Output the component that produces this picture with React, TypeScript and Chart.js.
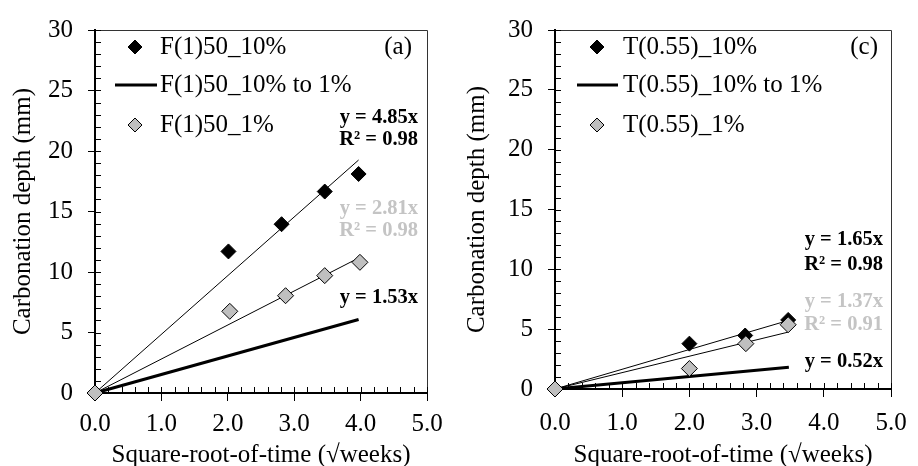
import React, { useEffect, useRef } from 'react';
import { Chart, registerables } from 'chart.js';
Chart.register(...registerables);

// ---------- data: panel (a) ----------
const aBlackX = [0, 2.01, 2.81, 3.46, 3.97];
const aBlackY = [0, 11.7, 13.95, 16.65, 18.1];
const aGrayX = [0, 2.03, 2.87, 3.46, 3.99];
const aGrayY = [0, 6.75, 8.04, 9.7, 10.8];
const aSlopes = [4.85, 2.81, 1.53]; // 10%, 1%, 10% to 1%
const aTrendEnd = [3.97, 3.99, 3.97];
const aR2 = ['0.98', '0.98'];
const aLabels = ['F(1)50_10%', 'F(1)50_10% to 1%', 'F(1)50_1%'];

// ---------- data: panel (c) ----------
const cBlackX = [0, 2.0, 2.83, 3.47];
const cBlackY = [0, 3.79, 4.47, 5.77];
const cGrayX = [0, 2.0, 2.84, 3.47];
const cGrayY = [0, 1.71, 3.79, 5.37];
const cSlopes = [1.65, 1.37, 0.52];
const cTrendEnd = [3.47, 3.47, 3.48];
const cR2 = ['0.98', '0.91'];
const cLabels = ['T(0.55)_10%', 'T(0.55)_10% to 1%', 'T(0.55)_1%'];

// ---------- axes ----------
const xMin = 0, xMax = 5, xStep = 1, xMinorStep = 0.2;
const yMin = 0, yMax = 30, yStep = 5, yMinorStep = 1;
const xTitle = 'Square-root-of-time (\u221Aweeks)';
const yTitle = 'Carbonation depth (mm)';

const FONT = '"Liberation Serif", "Times New Roman", serif';
const FS = 25;
const GRAY_FILL = '#bfbfbf';
const GRAY_TEXT = '#c4c4c4';

type Panel = {
  bx: number[]; by: number[]; gx: number[]; gy: number[];
  slopes: number[]; ends: number[]; r2: string[]; labels: string[]; tag: string;
  // layout
  left: number; yAxisW: number; top: number; right: number; xAxisH: number;
  xTickPad: number; yTitlePad: number;
  eqRight: number; eqY: number[]; tagRight: number;
  legDiamond: number; legLine: [number, number]; legText: number; legY: number[];
};

const panels: Panel[] = [
  {
    bx: aBlackX, by: aBlackY, gx: aGrayX, gy: aGrayY, slopes: aSlopes, ends: aTrendEnd, r2: aR2, labels: aLabels, tag: '(a)',
    left: 0, yAxisW: 95, top: 21, right: 32, xAxisH: 73, xTickPad: 8, yTitlePad: 8,
    eqRight: 9, eqY: [118, 140, 209, 231, 298], tagRight: 15,
    legDiamond: 40, legLine: [20, 62], legText: 65, legY: [47, 85, 125],
  },
  {
    bx: cBlackX, by: cBlackY, gx: cGrayX, gy: cGrayY, slopes: cSlopes, ends: cTrendEnd, r2: cR2, labels: cLabels, tag: '(c)',
    left: 459, yAxisW: 96, top: 20, right: 27, xAxisH: 77, xTickPad: 11, yTitlePad: 3,
    eqRight: 8, eqY: [240, 265, 302, 325, 362], tagRight: 13,
    legDiamond: 42, legLine: [22, 63], legText: 68, legY: [47, 85, 125],
  },
];

const W = 459, H = 466;

function drawDiamond(ctx: CanvasRenderingContext2D, x: number, y: number, r: number, fill: string) {
  ctx.beginPath();
  ctx.moveTo(x, y - r);
  ctx.lineTo(x + r, y);
  ctx.lineTo(x, y + r);
  ctx.lineTo(x - r, y);
  ctx.closePath();
  ctx.fillStyle = fill;
  ctx.fill();
  ctx.lineWidth = 1;
  ctx.strokeStyle = '#000';
  ctx.stroke();
}

function makeDecor(p: Panel) {
  return {
    id: 'decor',
    beforeDatasetsDraw(chart: any) {
      const ctx: CanvasRenderingContext2D = chart.ctx;
      const a = chart.chartArea;
      const xs = chart.scales.x, ys = chart.scales.y;
      ctx.save();
      // frame top & right
      ctx.strokeStyle = '#333';
      ctx.lineWidth = 1;
      ctx.beginPath();
      ctx.moveTo(a.left, Math.round(a.top) + 0.5);
      ctx.lineTo(Math.round(a.right) + 0.5, Math.round(a.top) + 0.5);
      ctx.lineTo(Math.round(a.right) + 0.5, a.bottom);
      ctx.stroke();
      // minor ticks
      ctx.strokeStyle = '#000';
      ctx.beginPath();
      for (let v = yMin; v <= yMax + 1e-9; v += yMinorStep) {
        const py = Math.round(ys.getPixelForValue(v)) + 0.5;
        ctx.moveTo(a.left, py);
        ctx.lineTo(a.left + 6, py);
      }
      const n = Math.round((xMax - xMin) / xMinorStep);
      for (let i = 0; i <= n; i++) {
        const px = Math.round(xs.getPixelForValue(xMin + i * xMinorStep)) + 0.5;
        ctx.moveTo(px, a.bottom);
        ctx.lineTo(px, a.bottom - 6);
      }
      ctx.stroke();
      ctx.restore();
    },
    afterDraw(chart: any) {
      const ctx: CanvasRenderingContext2D = chart.ctx;
      const a = chart.chartArea;
      ctx.save();
      // legend
      ctx.font = `${FS}px ${FONT}`;
      ctx.textBaseline = 'middle';
      ctx.textAlign = 'left';
      ctx.fillStyle = '#000';
      drawDiamond(ctx, a.left + p.legDiamond, p.legY[0], 7, '#000');
      ctx.fillStyle = '#000';
      ctx.fillText(p.labels[0], a.left + p.legText, p.legY[0]);
      ctx.beginPath();
      ctx.lineWidth = 3;
      ctx.strokeStyle = '#000';
      ctx.moveTo(a.left + p.legLine[0], p.legY[1]);
      ctx.lineTo(a.left + p.legLine[1], p.legY[1]);
      ctx.stroke();
      ctx.fillText(p.labels[1], a.left + p.legText, p.legY[1]);
      drawDiamond(ctx, a.left + p.legDiamond, p.legY[2], 7, GRAY_FILL);
      ctx.fillStyle = '#000';
      ctx.fillText(p.labels[2], a.left + p.legText, p.legY[2]);
      // panel tag
      ctx.textAlign = 'right';
      ctx.fillText(p.tag, a.right - p.tagRight, p.legY[0]);
      // equations
      ctx.font = `bold 20.5px ${FONT}`;
      const eqs = [
        { t: `y = ${p.slopes[0].toFixed(2)}x`, c: '#000' },
        { t: `R\u00B2 = ${p.r2[0]}`, c: '#000' },
        { t: `y = ${p.slopes[1].toFixed(2)}x`, c: GRAY_TEXT },
        { t: `R\u00B2 = ${p.r2[1]}`, c: GRAY_TEXT },
        { t: `y = ${p.slopes[2].toFixed(2)}x`, c: '#000' },
      ];
      eqs.forEach((e, i) => {
        ctx.fillStyle = e.c;
        ctx.fillText(e.t, a.right - p.eqRight, p.eqY[i]);
      });
      ctx.restore();
    },
  };
}

function makeConfig(p: Panel): any {
  const pts = (xs: number[], ys: number[]) => xs.map((x, i) => ({ x, y: ys[i] }));
  const trend = (k: number, xe: number) => [{ x: 0, y: 0 }, { x: xe, y: k * xe }];
  const lineDs = (label: string, k: number, xe: number, w: number, order: number) => ({
    label, data: trend(k, xe), showLine: true, borderColor: '#000', borderWidth: w,
    pointRadius: 0, pointHoverRadius: 0, order, clip: false, fill: false, tension: 0,
  });
  return {
    type: 'scatter',
    data: {
      datasets: [
        {
          label: p.labels[2], data: pts(p.gx, p.gy), pointStyle: 'rectRot', pointRadius: 8,
          backgroundColor: GRAY_FILL, borderColor: '#000', borderWidth: 1, order: 0, clip: false,
        },
        {
          label: p.labels[0], data: pts(p.bx, p.by), pointStyle: 'rectRot', pointRadius: 7.5,
          backgroundColor: '#000', borderColor: '#000', borderWidth: 1, order: 1, clip: false,
        },
        lineDs(p.labels[0] + ' trend', p.slopes[0], p.ends[0], 1, 2),
        lineDs(p.labels[2] + ' trend', p.slopes[1], p.ends[1], 1, 3),
        lineDs(p.labels[1], p.slopes[2], p.ends[2], 3, 4),
      ],
    },
    options: {
      animation: false,
      responsive: false,
      devicePixelRatio: 1,
      events: [],
      layout: { padding: { left: 0, top: p.top, right: p.right, bottom: 0 } },
      plugins: { legend: { display: false }, tooltip: { enabled: false } },
      scales: {
        x: {
          type: 'linear', min: xMin, max: xMax,
          ticks: {
            stepSize: xStep, color: '#000', font: { family: FONT, size: FS }, padding: p.xTickPad,
            maxRotation: 0, autoSkip: false, callback: (v: any) => Number(v).toFixed(1),
          },
          grid: { drawOnChartArea: false, drawTicks: true, tickLength: 8, color: '#000', lineWidth: 1 },
          border: { display: true, color: '#000', width: 2 },
          title: { display: true, text: xTitle, color: '#000', font: { family: FONT, size: FS, lineHeight: 1.2 }, padding: { top: 0, bottom: -4 } },
          afterFit: (s: any) => { s.height = p.xAxisH; },
        },
        y: {
          type: 'linear', min: yMin, max: yMax,
          ticks: { stepSize: yStep, color: '#000', font: { family: FONT, size: FS }, padding: 15 },
          grid: { drawOnChartArea: false, drawTicks: true, tickLength: 7, color: '#000', lineWidth: 1 },
          border: { display: true, color: '#000', width: 2 },
          title: { display: true, text: yTitle, color: '#000', font: { family: FONT, size: FS, lineHeight: 1.2 }, padding: { top: p.yTitlePad, bottom: 0 } },
          afterFit: (s: any) => { s.width = p.yAxisW; },
        },
      },
    },
    plugins: [makeDecor(p)],
  };
}

function PanelChart({ p }: { p: Panel }) {
  const ref = useRef<HTMLCanvasElement | null>(null);
  useEffect(() => {
    if (!ref.current) return;
    const chart = new Chart(ref.current, makeConfig(p));
    return () => chart.destroy();
  }, [p]);
  return (
    <canvas
      ref={ref}
      width={W}
      height={H}
      style={{ position: 'absolute', left: p.left, top: 0, width: W, height: H, display: 'block' }}
    />
  );
}

export default function App() {
  return (
    <div style={{ position: 'absolute', left: 0, top: 0, width: 918, height: 466, background: '#fff', overflow: 'hidden' }}>
      {panels.map((p, i) => <PanelChart key={i} p={p} />)}
    </div>
  );
}
